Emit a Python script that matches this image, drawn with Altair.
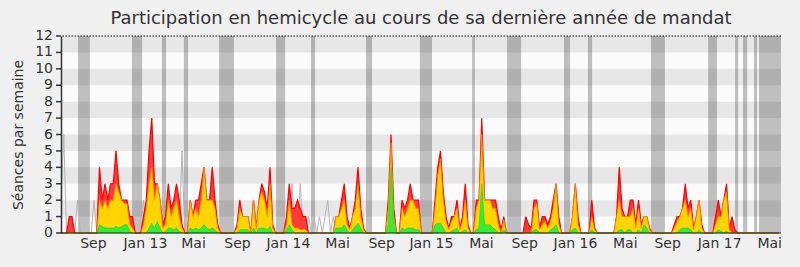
import json
import altair as alt
import pandas as pd

TITLE = "Participation en hemicycle au cours de sa dernière année de mandat"
Y_TITLE = "Séances par semaine"
N_WEEKS = 262  # weekly points, June 2012 -> June 2017

# total sessions attended per week (red)
red = [
    0, 0, 0, 1, 1, 0, 0, 0, 0, 0,            # 0
    0, 0, 0, 0, 4, 2, 3, 2, 3, 3,            # 10
    5, 3, 2, 2, 2, 1, 1, 0, 0, 0,            # 20
    1, 2, 5, 7, 3, 3, 2, 0.5, 1, 3,          # 30
    1.5, 2, 3, 2, 0.5, 0, 0, 2, 1, 2,        # 40
    2, 3, 4, 2, 2, 4, 2, 0.5, 0, 0,          # 50
    0, 0, 0, 0, 0.5, 2, 1, 1, 1, 0,          # 60
    2, 0.3, 2, 3, 2.5, 1.5, 4, 0.5, 0, 0,    # 70
    0, 0, 1, 3, 1.5, 1.5, 2, 1.5, 1, 1,      # 80
    0, 0, 0, 0, 0, 0, 0, 0, 0, 0,            # 90
    1, 1, 2, 3, 1, 0.3, 1, 2, 4, 1.5,        # 100
    0.3, 0, 0, 0, 0, 0, 0, 0, 0, 2,          # 110
    6, 1.5, 0, 0, 2, 1.5, 2, 3, 2, 2,        # 120
    2, 0, 0, 0, 0, 0, 2, 4, 5, 2.5,          # 130
    1, 0.3, 1, 1, 2, 0.3, 1, 3, 0.5, 0,      # 140
    0, 2, 2, 7, 2, 2, 2, 2, 2, 1,            # 150
    0.2, 1, 0, 0, 0, 0, 0, 0, 0, 1,          # 160
    0.5, 0.3, 2, 2, 0.3, 1, 1, 0.5, 1, 2,    # 170
    3, 1, 0, 0, 0, 0, 1, 3, 1, 0,            # 180
    0, 0, 0, 2, 0.3, 0, 0, 0, 0, 0,          # 190
    0, 0, 1, 4, 1.5, 1, 1, 2, 2, 0.5,        # 200
    2, 0.5, 1, 1, 0.3, 0, 0, 0, 0, 0,        # 210
    0, 0, 0, 0.5, 1, 1, 1.5, 3, 1.5, 2,      # 220
    0.3, 1, 2, 0.5, 0, 0, 0, 0, 1, 2,        # 230
    1, 2, 3, 0.3, 1, 0.2, 0, 0, 0, 0,        # 240
    0, 0, 0, 0, 0, 0, 0, 0, 0, 0,            # 250
    0, 0,                                    # 260
]

# weeks with interventions (yellow)
yellow = [
    0, 0, 0, 0, 0, 0, 0, 0, 0, 0,            # 0
    0, 0, 0, 0, 2, 1.5, 2, 1.5, 2, 2,        # 10
    3, 2.5, 2, 1.8, 1.8, 0.5, 0.3, 0, 0, 0,  # 20
    0.5, 1.5, 3, 4, 2, 3, 2, 0.3, 0.5, 2,    # 30
    1, 1.5, 2, 1, 0.3, 0, 0, 2, 1, 1.5,      # 40
    1, 2, 4, 2, 2, 2, 1.5, 0.3, 0, 0,        # 50
    0, 0, 0, 0, 0.3, 1.5, 1, 1, 1, 0,        # 60
    2, 0.2, 2, 2.5, 2, 1, 3, 0.3, 0, 0,      # 70
    0, 0, 0.5, 2, 0.5, 0.3, 0.3, 0.2, 0.2, 0.2,  # 80
    0, 0, 0, 0, 0, 0, 0, 0, 0, 0,            # 90
    1, 1, 1.5, 2, 0.5, 0.2, 1, 1.5, 3, 1,    # 100
    0.2, 0, 0, 0, 0, 0, 0, 0, 0, 1.5,        # 110
    5.5, 1, 0, 0, 1.5, 1, 1.5, 2, 2, 1.5,    # 120
    1.5, 0, 0, 0, 0, 0, 1.5, 3.5, 4.5, 2,    # 130
    0.7, 0.2, 0.7, 1, 1.5, 0.2, 0.7, 2, 0.3, 0,  # 140
    0, 1.5, 2, 6, 2, 2, 2, 1.5, 1.5, 0.5,    # 150
    0, 0.8, 0, 0, 0, 0, 0, 0, 0, 0,          # 160
    0, 0, 1.5, 1.8, 0.2, 0.5, 0.7, 0.3, 0.7, 1.5,  # 170
    3, 0.5, 0, 0, 0, 0, 1, 3, 0.5, 0,        # 180
    0, 0, 0, 1, 0.2, 0, 0, 0, 0, 0,          # 190
    0, 0, 1, 2, 1, 1, 1, 1, 1.5, 0.3,        # 200
    1.5, 0.3, 1, 1, 0.2, 0, 0, 0, 0, 0,      # 210
    0, 0, 0, 0.3, 0.7, 1, 1.5, 2, 1, 1.5,    # 220
    0.2, 1, 2, 0.3, 0, 0, 0, 0, 0.5, 1,      # 230
    1, 2, 2.5, 0.2, 0, 0, 0, 0, 0, 0,        # 240
    0, 0, 0, 0, 0, 0, 0, 0, 0, 0,            # 250
    0, 0,                                    # 260
]

# long interventions (green)
green = [
    0, 0, 0, 0, 0, 0, 0, 0, 0, 0,            # 0
    0, 0, 0, 0, 0.5, 0.4, 0.3, 0.3, 0.3, 0.3,  # 10
    0.4, 0.3, 0.4, 0.5, 0.5, 0.1, 0, 0, 0, 0,  # 20
    0, 0, 0.3, 0.6, 0.3, 0.7, 0.3, 0, 0.1, 0.3,  # 30
    0.3, 0.2, 0.3, 0.1, 0, 0, 0, 0.3, 0.2, 0.3,  # 40
    0.2, 0.3, 0.5, 0.3, 0.2, 0.3, 0.2, 0, 0, 0,  # 50
    0, 0, 0, 0, 0, 0.2, 0.2, 0.2, 0.2, 0,    # 60
    0.3, 0, 0.3, 0.3, 0.3, 0.2, 0.4, 0, 0, 0,  # 70
    0, 0, 0.2, 0.5, 0.2, 0, 0, 0, 0, 0,      # 80
    0, 0, 0, 0, 0, 0, 0, 0, 0, 0,            # 90
    0.3, 0.3, 0.3, 0.5, 0.2, 0, 0.2, 0.4, 0.6, 0.3,  # 100
    0, 0, 0, 0, 0, 0, 0, 0, 0, 0.5,          # 110
    4, 0.5, 0, 0, 0.3, 0.2, 0.3, 0.3, 0.3, 0.2,  # 120
    0.2, 0, 0, 0, 0, 0, 0.5, 0.6, 0.6, 0.3,  # 130
    0, 0, 0.1, 0.2, 0.3, 0, 0.1, 0.2, 0, 0,  # 140
    0, 0.2, 0.3, 3, 0.5, 0.5, 0.5, 0.3, 0.2, 0,  # 150
    0, 0.2, 0, 0, 0, 0, 0, 0, 0, 0,          # 160
    0, 0, 0.2, 0.2, 0, 0, 0, 0, 0.2, 0.3,    # 170
    0.5, 0, 0, 0, 0, 0, 0.2, 0.3, 0, 0,      # 180
    0, 0, 0, 0.2, 0, 0, 0, 0, 0, 0,          # 190
    0, 0, 0, 0.2, 0.2, 0, 0.2, 0.2, 0, 0,    # 200
    0.2, 0, 0.5, 0.3, 0, 0, 0, 0, 0, 0,      # 210
    0, 0, 0, 0, 0, 0.2, 0.3, 0.3, 0.3, 0.2,  # 220
    0, 0, 0.2, 0, 0, 0, 0, 0, 0, 0.2,        # 230
    0.1, 0, 0.1, 0, 0, 0, 0, 0, 0, 0,        # 240
    0, 0, 0, 0, 0, 0, 0, 0, 0, 0,            # 250
    0, 0,                                    # 260
]

# median presence of all deputies (grey line), visible weeks only
gray_weeks = [0, 1, 6, 12, 30, 44, 84, 87, 90, 92, 94, 96, 97, 99]
gray_vals = [2, 6, 2, 2, 2, 5, 3, 3, 1, 1, 1, 1, 2, 1]

# parliamentary holidays (in weeks)
vac_start = [6.2, 25.8, 36.7, 44.7, 57.5, 78.2, 90.9, 110.9, 130.5, 149.5,
             162.2, 182.9, 191.6, 214.5, 235.3, 245.1, 248.0, 252.0, 253.8]
vac_end = [10.5, 29.5, 38.2, 46.2, 62.9, 81.5, 92.4, 113.1, 134.9, 150.5,
           167.3, 185.1, 193.1, 219.6, 238.5, 246.2, 249.5, 253.1, 261.8]

stripe_lo = [1, 3, 5, 7, 9, 11]
y_ticks = [0, 1, 2, 3, 4, 5, 6, 7, 8, 9, 10, 11, 12]

tick_pos = [11.6, 30.5, 48, 64, 82.5, 100.4, 116.4, 134.5, 152.7, 168.4,
            186.9, 205, 220.4, 239.3, 257.5]
tick_lab = ["Sep", "Jan 13", "Mai", "Sep", "Jan 14", "Mai", "Sep", "Jan 15",
            "Mai", "Sep", "Jan 16", "Mai", "Sep", "Jan 17", "Mai"]

assert len(red) == N_WEEKS and len(yellow) == N_WEEKS and len(green) == N_WEEKS

XMAX = 261.8
gray = [0] * N_WEEKS
for w, v in zip(gray_weeks, gray_vals):
    gray[w] = v

df = pd.DataFrame({"week": list(range(N_WEEKS)), "red": red, "yellow": yellow,
                   "green": green, "gray": gray})
vac = pd.DataFrame({"start": vac_start, "end": vac_end})
stripes = pd.DataFrame({"lo": stripe_lo, "hi": [v + 1 for v in stripe_lo]})
yt = pd.DataFrame({"v": y_ticks})
one = pd.DataFrame({"k": [0]})

FONT = "DejaVu Sans"
TXT = "#333333"
xs = alt.Scale(domain=[0, XMAX], nice=False, zero=False)
ys = alt.Scale(domain=[0, 12], nice=False, zero=True)

label_expr = f"{json.dumps(tick_lab)}[indexof({json.dumps(tick_pos)}, datum.value)]"

x_axis = alt.Axis(values=tick_pos, labelExpr=label_expr, ticks=False, grid=False,
                  domain=False, labelFontSize=14, labelColor=TXT, labelFont=FONT,
                  labelPadding=3, labelOverlap=False, labelFlush=False, title=None)
y_axis = alt.Axis(values=y_ticks, grid=False, domainColor=TXT, domainWidth=1.5,
                  ticks=False, labels=False, zindex=1,
                  title=Y_TITLE, titleFontSize=14, titleFont=FONT,
                  titleFontWeight="normal", titleColor=TXT, titlePadding=36)

# axis carrier (transparent)
axis_layer = alt.Chart(df).mark_line(opacity=0).encode(
    x=alt.X("week:Q", scale=xs, axis=x_axis),
    y=alt.Y("red:Q", scale=ys, axis=y_axis))

vac_layer = alt.Chart(vac).mark_rect(color="#bfbfbf").encode(
    x=alt.X("start:Q"), x2="end:Q",
    y=alt.Y(datum=0), y2=alt.Y2(datum=12))

stripe_layer = alt.Chart(stripes).mark_rect(color="#000000", opacity=0.08).encode(
    x=alt.X(datum=0), x2=alt.X2(datum=XMAX),
    y=alt.Y("lo:Q"), y2="hi:Q")

gray_layer = alt.Chart(df).mark_line(color="#b4b4b4", strokeWidth=1).encode(
    x=alt.X("week:Q"), y=alt.Y("gray:Q"))


def area(col, fill, stroke, sw):
    a = alt.Chart(df).mark_area(color=fill, opacity=1).encode(
        x=alt.X("week:Q"), y=alt.Y(f"{col}:Q"))
    l = alt.Chart(df).mark_line(color=stroke, strokeWidth=sw).encode(
        x=alt.X("week:Q"), y=alt.Y(f"{col}:Q"))
    return a, l


red_a, red_l = area("red", "#ff3a3a", "#ff0000", 1.2)
yel_a, yel_l = area("yellow", "#ffd400", "#ff8c00", 0.8)
grn_a, grn_l = area("green", "#33ee33", "#22cc22", 0.6)

top_rule = alt.Chart(one).mark_rule(color="#000000", strokeDash=[1.5, 1.5], strokeWidth=1).encode(
    y=alt.Y(datum=12))
base_rule = alt.Chart(one).mark_rule(color="#222222", strokeWidth=1.2).encode(
    y=alt.Y(datum=0))

# y tick labels and tick marks
ytick_marks = alt.Chart(yt).mark_rule(color=TXT, strokeWidth=1.5).encode(
    x=alt.value(-5), x2=alt.value(0), y=alt.Y("v:Q"))
ytick_text = alt.Chart(yt).mark_text(align="right", baseline="middle", font=FONT,
                                     fontSize=14, color=TXT).encode(
    x=alt.value(-8), y=alt.Y("v:Q"), text=alt.Text("v:Q"))

chart = alt.layer(axis_layer, vac_layer, stripe_layer, gray_layer,
                  red_a, red_l, yel_a, yel_l, grn_a, grn_l, top_rule, base_rule,
                  ytick_marks, ytick_text).properties(
    width=720, height=197,
    title=alt.TitleParams(TITLE, fontSize=18, font=FONT, fontWeight="normal",
                          color=TXT, anchor="middle", offset=1),
    autosize=alt.AutoSizeParams(type="none"),
    padding={"left": 61, "top": 36, "right": 19, "bottom": 34},
    background="#f0f0f0",
).configure_view(stroke=None, fill="#fbfbfb")

chart.save("out.html", embed_options={"renderer": "svg", "actions": False})
